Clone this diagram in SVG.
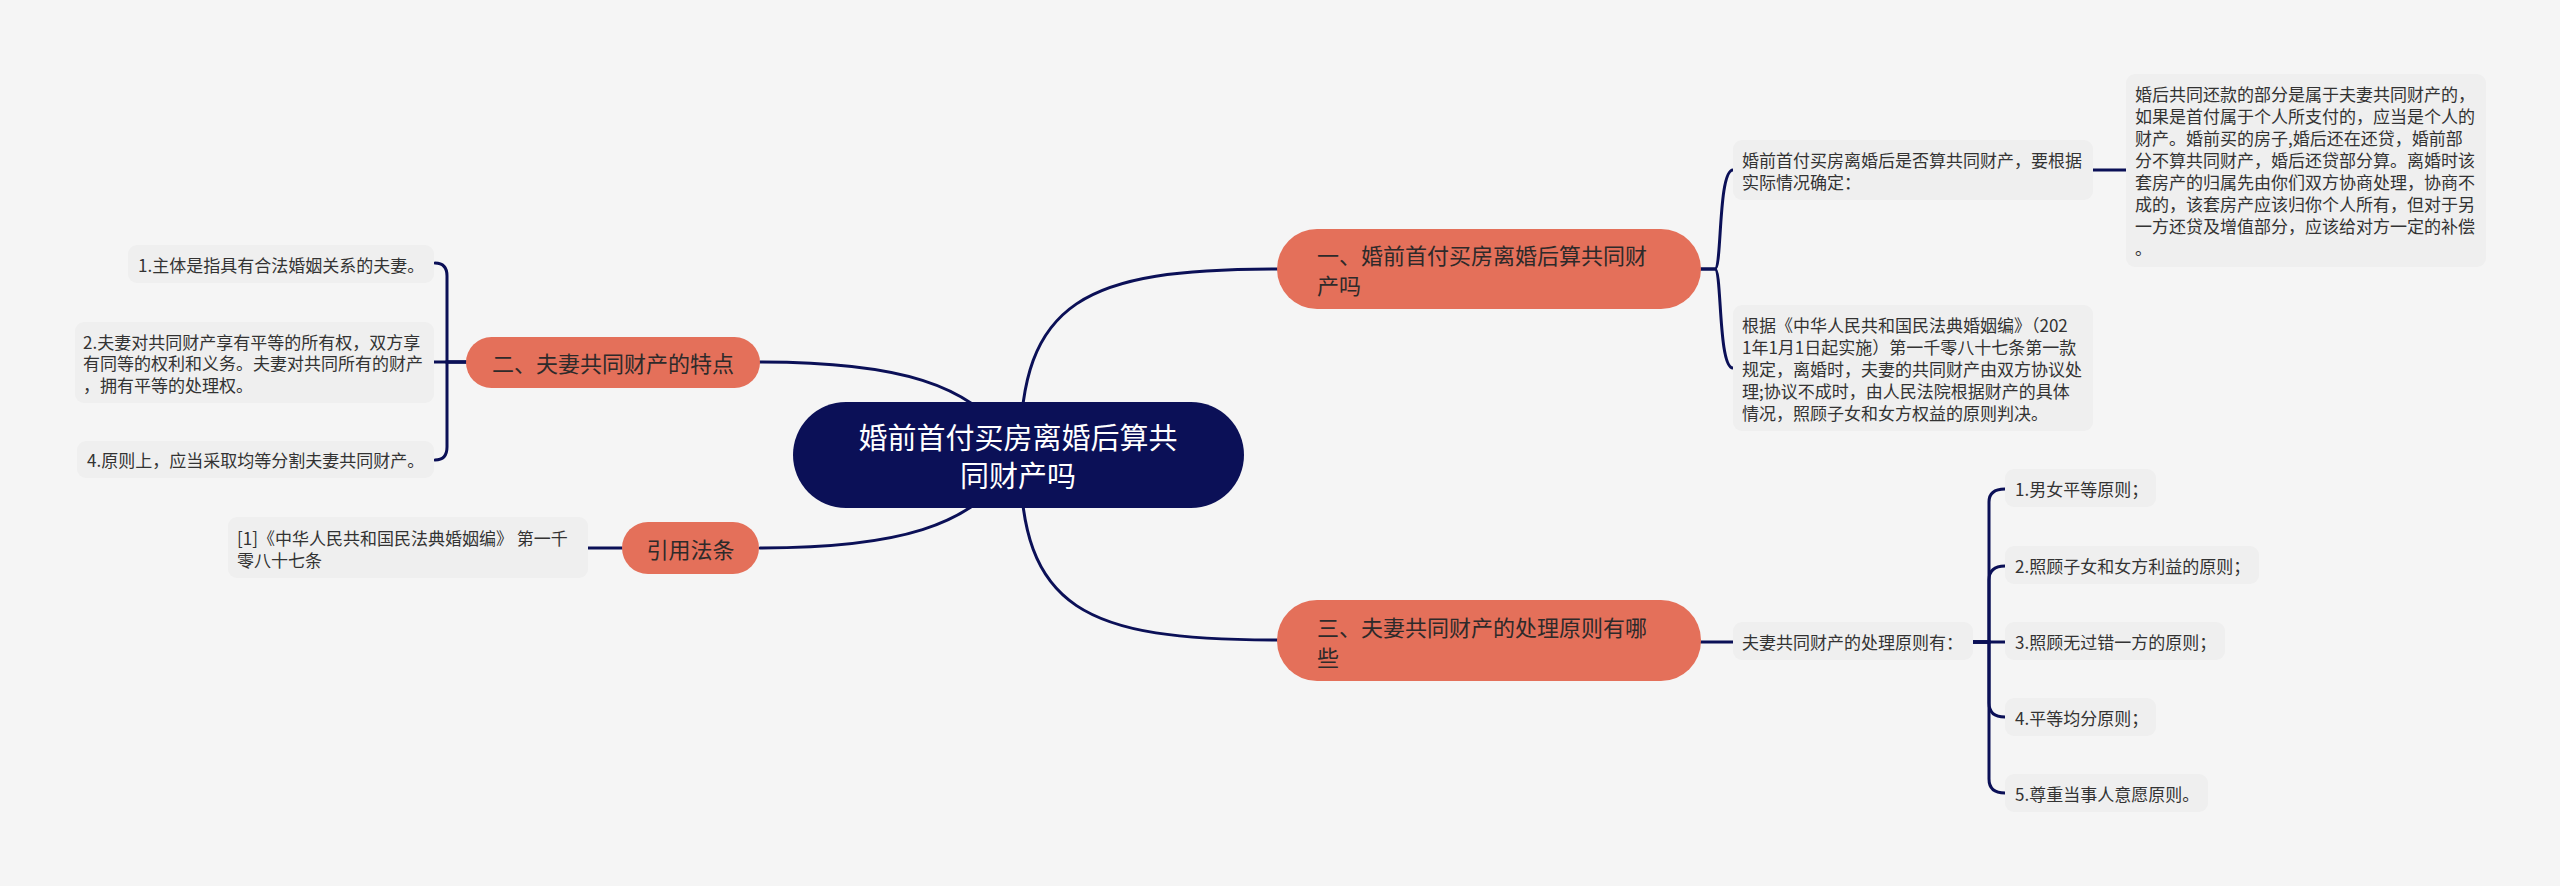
<svg xmlns="http://www.w3.org/2000/svg" width="2560" height="886" viewBox="0 0 2560 886">
<style>
.bg{fill:#f5f5f5}
.leaf rect{fill:#efefef}
.leaf text{font-family:"Noto Sans CJK SC","Liberation Sans",sans-serif;font-size:17px;fill:#333333;dominant-baseline:central}
.main rect{fill:#e4705a}
.main text{font-family:"Noto Sans CJK SC","Liberation Sans",sans-serif;font-size:22px;fill:#2e2a2a;dominant-baseline:central}
.root rect{fill:#0b1057}
.root text{font-family:"Noto Sans CJK SC","Liberation Sans",sans-serif;font-size:29px;fill:#ffffff;dominant-baseline:central;text-anchor:middle}
.conn path{fill:none;stroke:#0b1057;stroke-width:3;stroke-linecap:round}
</style>
<rect class="bg" x="0" y="0" width="2560" height="886"/>

<g id="connectors" class="conn">
  <path d="M1020,455 C1020,300 1085,269 1277,269"/>
  <path d="M1020,455 C1020,610 1085,640 1277,640"/>
  <path d="M760,362 C900,362 970,385 1010,440"/>
  <path d="M760,548 C900,548 970,525 1010,470"/>
  <path d="M1701,269 H1715 C1722,269 1718,170 1733,170"/>
  <path d="M1701,269 H1715 C1722,269 1718,368 1733,368"/>
  <path d="M2093,170 H2126"/>
  <path d="M466,362 H447 V276 Q447,263 435,263"/>
  <path d="M466,362 H434"/>
  <path d="M466,362 H447 V447 Q447,460 435,460"/>
  <path d="M588,548 H622"/>
  <path d="M1701,642 H1733"/>
  <path d="M1973,642 H1989 V502 Q1989,489 2005,489"/>
  <path d="M1973,642 H1989 V580 Q1989,566 2005,566"/>
  <path d="M1973,642 H2005"/>
  <path d="M1973,642 H1989 V703 Q1989,717 2005,717"/>
  <path d="M1973,642 H1989 V779 Q1989,793 2005,793"/>
</g>

<g id="root" class="root">
  <rect x="793" y="402" width="451" height="106" rx="53"/>
  <text x="1018" y="436">婚前首付买房离婚后算共</text>
  <text x="1018" y="474">同财产吗</text>
</g>

<g id="node1" class="main">
  <rect x="1277" y="229" width="424" height="80" rx="40"/>
  <text x="1317" y="254">一、婚前首付买房离婚后算共同财</text>
  <text x="1317" y="284">产吗</text>
</g>

<g id="node2" class="main">
  <rect x="466" y="337" width="294" height="51" rx="25.5"/>
  <text x="613" y="362" text-anchor="middle">二、夫妻共同财产的特点</text>
</g>

<g id="node3" class="main">
  <rect x="1277" y="600" width="424" height="81" rx="40"/>
  <text x="1317" y="626">三、夫妻共同财产的处理原则有哪</text>
  <text x="1317" y="656">些</text>
</g>

<g id="node4" class="main">
  <rect x="622" y="522" width="137" height="52" rx="26"/>
  <text x="690.5" y="548" text-anchor="middle">引用法条</text>
</g>

<g id="leaf-1a" class="leaf">
  <rect x="1733" y="140" width="360" height="60" rx="9"/>
  <text x="1742" y="159.5">婚前首付买房离婚后是否算共同财产，要根据</text>
  <text x="1742" y="181.5">实际情况确定：</text>
</g>

<g id="leaf-1a-detail" class="leaf">
  <rect x="2126" y="74" width="360" height="193" rx="9"/>
  <text x="2135" y="93">婚后共同还款的部分是属于夫妻共同财产的，</text>
  <text x="2135" y="115">如果是首付属于个人所支付的，应当是个人的</text>
  <text x="2135" y="137">财产。婚前买的房子,婚后还在还贷，婚前部</text>
  <text x="2135" y="159">分不算共同财产，婚后还贷部分算。离婚时该</text>
  <text x="2135" y="181">套房产的归属先由你们双方协商处理，协商不</text>
  <text x="2135" y="203">成的，该套房产应该归你个人所有，但对于另</text>
  <text x="2135" y="225">一方还贷及增值部分，应该给对方一定的补偿</text>
  <text x="2135" y="247">。</text>
</g>

<g id="leaf-1b" class="leaf">
  <rect x="1733" y="305" width="360" height="126" rx="9"/>
  <text x="1742" y="324">根据《中华人民共和国民法典婚姻编》（202</text>
  <text x="1742" y="346">1年1月1日起实施）第一千零八十七条第一款</text>
  <text x="1742" y="368">规定，离婚时，夫妻的共同财产由双方协议处</text>
  <text x="1742" y="390">理;协议不成时，由人民法院根据财产的具体</text>
  <text x="1742" y="412">情况，照顾子女和女方权益的原则判决。</text>
</g>

<g id="leaf-2a" class="leaf">
  <rect x="128" y="245" width="306" height="38" rx="9"/>
  <text x="138" y="264">1.主体是指具有合法婚姻关系的夫妻。</text>
</g>

<g id="leaf-2b" class="leaf">
  <rect x="75" y="322" width="359" height="81" rx="9"/>
  <text x="83" y="341">2.夫妻对共同财产享有平等的所有权，双方享</text>
  <text x="83" y="362.5">有同等的权利和义务。夫妻对共同所有的财产</text>
  <text x="83" y="384">，拥有平等的处理权。</text>
</g>

<g id="leaf-2c" class="leaf">
  <rect x="77" y="441" width="357" height="37" rx="9"/>
  <text x="87" y="459.5">4.原则上，应当采取均等分割夫妻共同财产。</text>
</g>

<g id="leaf-4a" class="leaf">
  <rect x="228" y="517" width="360" height="61" rx="9"/>
  <text x="237" y="537.5">[1]《中华人民共和国民法典婚姻编》 第一千</text>
  <text x="237" y="559">零八十七条</text>
</g>

<g id="leaf-3a" class="leaf">
  <rect x="1733" y="622" width="240" height="38" rx="9"/>
  <text x="1742" y="641.5">夫妻共同财产的处理原则有：</text>
</g>

<g id="leaf-3a-1" class="leaf">
  <rect x="2005" y="469" width="151" height="38" rx="9"/>
  <text x="2015" y="488.5">1.男女平等原则；</text>
</g>
<g id="leaf-3a-2" class="leaf">
  <rect x="2005" y="546" width="254" height="38" rx="9"/>
  <text x="2015" y="565.5">2.照顾子女和女方利益的原则；</text>
</g>
<g id="leaf-3a-3" class="leaf">
  <rect x="2005" y="622" width="220" height="38" rx="9"/>
  <text x="2015" y="641.5">3.照顾无过错一方的原则；</text>
</g>
<g id="leaf-3a-4" class="leaf">
  <rect x="2005" y="698" width="151" height="38" rx="9"/>
  <text x="2015" y="717">4.平等均分原则；</text>
</g>
<g id="leaf-3a-5" class="leaf">
  <rect x="2005" y="774" width="203" height="38" rx="9"/>
  <text x="2015" y="793">5.尊重当事人意愿原则。</text>
</g>
</svg>
